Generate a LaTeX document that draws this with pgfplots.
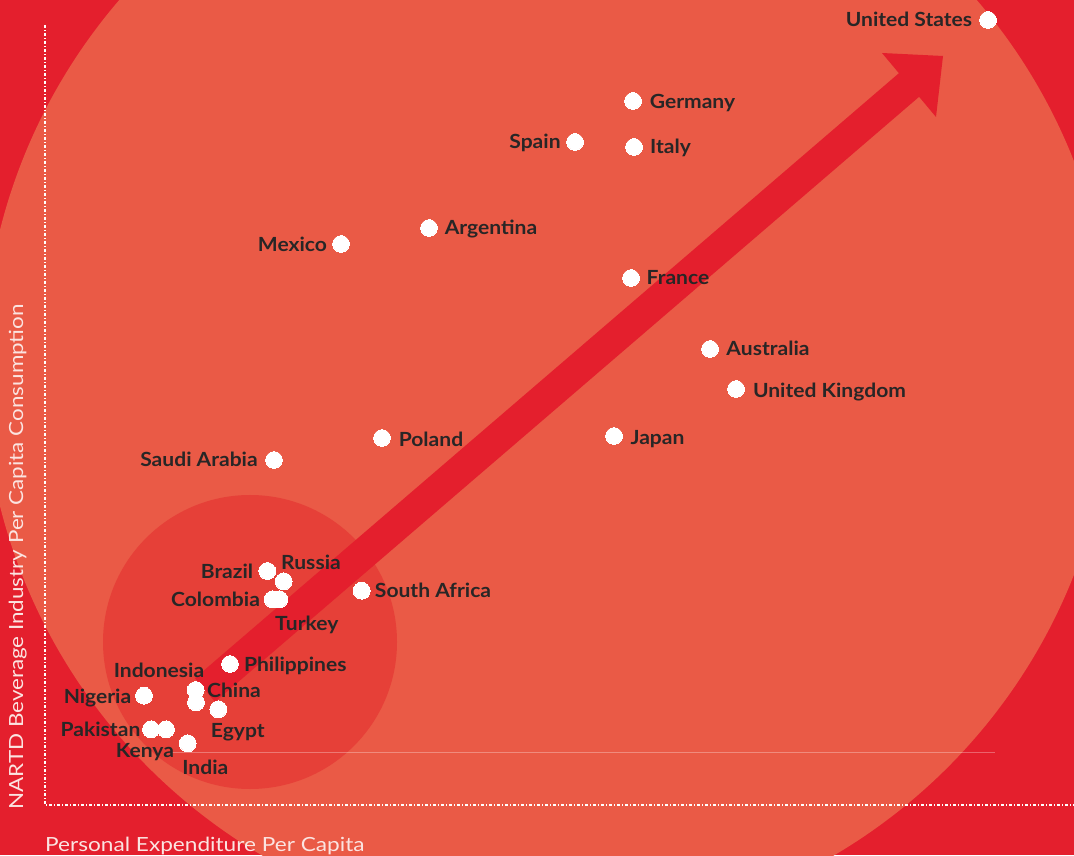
\documentclass[border=0pt]{standalone}
\usepackage{pgfplots}
\pgfplotsset{compat=1.18}
\usepackage{pgfplotstable}
\usepackage{fontspec}
\setmainfont{Lato}
\definecolor{bgred}{RGB}{228,31,45}
\definecolor{bigc}{RGB}{234,90,70}
\definecolor{smallc}{RGB}{230,64,56}
\definecolor{labc}{RGB}{40,38,38}
\definecolor{axc}{RGB}{251,228,225}

\pgfplotstableread{
x y dx dy lab
988 835 -79 0 {United States}
633 754 59.5 -1 {Germany}
575 713 -40 0 {Spain}
634 708 36.5 0 {Italy}
429 627 62 0 {Argentina}
341 611 -48.5 -1 {Mexico}
631 577 47 0 {France}
710 506 58 0 {Australia}
736 466 93.5 -2 {United Kingdom}
382 417 49 -2 {Poland}
614 419 43.5 -2 {Japan}
274 395 -75 0 {Saudi Arabia}
267.3 284 -40.3 -0.7 {Brazil}
283.7 273.7 27.3 18.6 {Russia}
272.7 255.7 -57.2 -0.7 {Colombia}
279.3 255.7 27.5 -23.7 {Turkey}
361.7 264.3 71.3 0 {South Africa}
230 191 65.3 0 {Philippines}
196 152.7 -37 31.6 {Indonesia}
195.7 165 38.3 0 {China}
144 159.3 -46.5 -0.7 {Nigeria}
218.3 145.7 19.5 -21.4 {Egypt}
151 125.7 -50.5 0.3 {Pakistan}
166 125.7 -21 -21.4 {Kenya}
187.7 111.7 17.6 -24.4 {India}
}\countries

\begin{document}
\begin{tikzpicture}
\begin{axis}[
  scale only axis,
  width=1074pt, height=855pt,
  xmin=0, xmax=1074, ymin=0, ymax=855,
  hide axis,
  clip=true,
]
\fill[bgred] (axis cs:0,0) rectangle (axis cs:1074,855);
\fill[bigc] (axis cs:548,487) circle[radius=565pt];
\fill[smallc] (axis cs:250,213) circle[radius=147pt];
\draw[white, opacity=0.3, line width=1pt] (axis cs:172,103) -- (axis cs:995,103);
\addplot[fill=bgred, draw=none] coordinates {
 (194.9,176.8) (898.9,781.8) (882,802) (943,799) (936,738) (919.1,758.2) (215.1,153.2)
} --cycle;
\draw[white, line width=2pt, dash pattern=on 3pt off 2pt on 1pt off 2pt] (axis cs:45,830) -- (axis cs:45,50) -- (axis cs:1074,50);
\addplot[white, only marks, mark=*, mark size=8.4, mark options={fill=white, draw=white, line width=0pt},
  point meta=explicit symbolic,
  visualization depends on={\thisrow{dx} \as \dx},
  visualization depends on={\thisrow{dy} \as \dy},
  nodes near coords,
  every node near coord/.style={anchor=base, xshift=\dx pt, yshift=\dy pt - 7pt, text=labc,
     font=\fontsize{19.5}{21}\selectfont\bfseries, inner sep=0pt, xscale=1.08},
] table[x=x, y=y, meta=lab] {\countries};
\node[anchor=base west, text=axc, font=\fontsize{19.5}{21}\selectfont, inner sep=0pt, xscale=1.16] at (axis cs:45,4) {Personal Expenditure Per Capita};
\node[rotate=90, xscale=1.15, anchor=base, text=axc, font=\fontsize{19.5}{21}\selectfont, inner sep=0pt] at (axis cs:23,298) {NARTD Beverage Industry Per Capita Consumption};
\end{axis}
\end{tikzpicture}
\end{document}
